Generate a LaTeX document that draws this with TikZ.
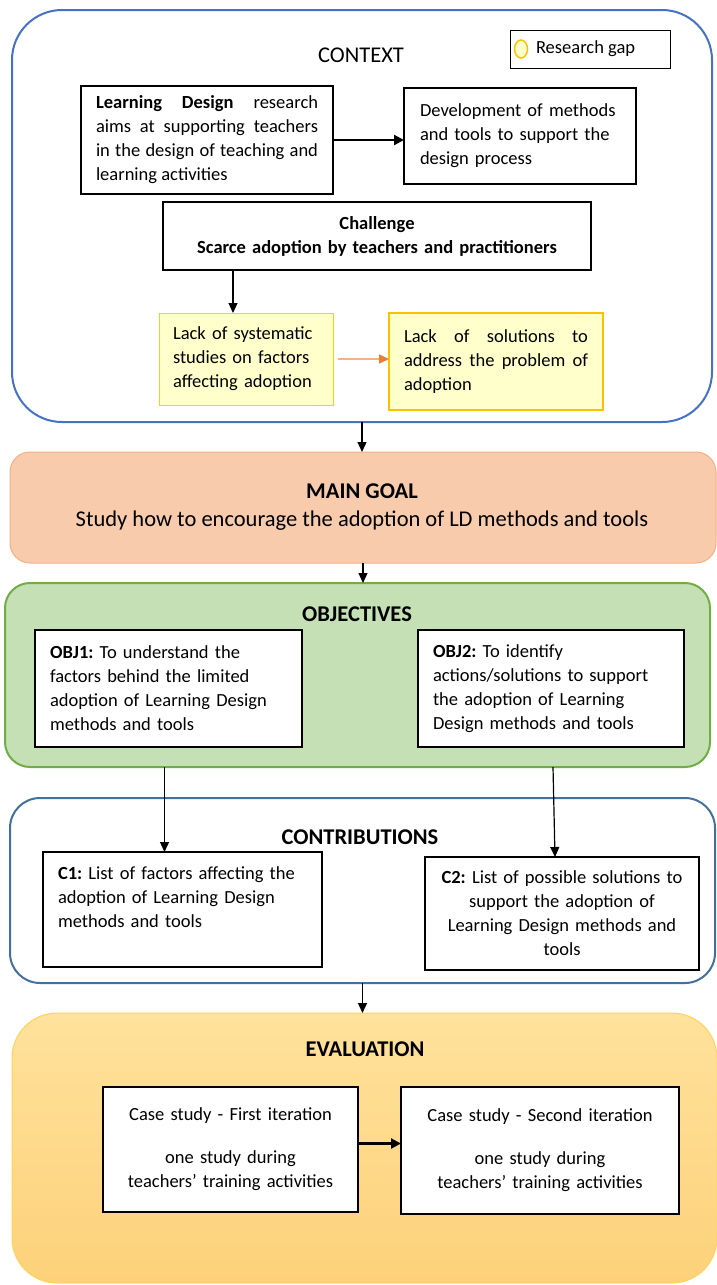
\documentclass[tikz,border=0pt]{standalone}
\usepackage{fontspec}
\setmainfont{Carlito}
\usetikzlibrary{arrows.meta,calc,shapes.geometric}

\definecolor{ctxblue}{HTML}{4472C4}
\definecolor{goalfill}{HTML}{F8CBAD}
\definecolor{goalline}{HTML}{F4B183}
\definecolor{objfill}{HTML}{C5E0B4}
\definecolor{objline}{HTML}{70AD47}
\definecolor{conline}{HTML}{41719C}
\definecolor{evtop}{HTML}{FFE29C}
\definecolor{evbot}{HTML}{FDD17A}
\definecolor{evline}{HTML}{FFD35A}
\definecolor{gapfill}{HTML}{FFFFCC}
\definecolor{gapline}{HTML}{FFC000}
\definecolor{orline}{HTML}{F4B183}
\definecolor{orhead}{HTML}{ED7D31}

\newcommand\bodysize{\fontsize{18.5}{24}\selectfont}
\newcommand\headsize{\fontsize{22.5}{27}\selectfont}
\frenchspacing

\begin{document}
\begin{tikzpicture}[x=1pt,y=-1pt,
  every node/.style={inner sep=0pt, outer sep=0pt},
  panel/.style={anchor=north west, rounded corners=#1},
  textbox/.style={draw=black, line width=1.1pt, fill=white, anchor=north west, font=\bodysize},
  heading/.style={font=\headsize\bfseries},
  arr/.style={-{Triangle[length=10pt,width=9pt]}, line width=1.2pt},
  thickarr/.style={-{Triangle[length=10pt,width=10pt]}, line width=2.2pt},
  orarr/.style={draw=orline, line width=1.5pt, -{Triangle[length=10pt,width=9pt,color=orhead]}}]

\useasboundingbox (0,0) rectangle (717,1285);

% section panels
\node[panel=50pt, draw=ctxblue, line width=2pt, minimum width=700, minimum height=412] (context) at (12,10) {};
\node[panel=20pt, draw=goalline, fill=goalfill, line width=1pt, minimum width=706, minimum height=111] (goal) at (10,452) {};
\node[panel=25pt, draw=objline, fill=objfill, line width=2pt, minimum width=705, minimum height=184] (objectives) at (5,583) {};
\node[panel=30pt, draw=conline, line width=2pt, minimum width=705, minimum height=185] (contrib) at (10,798) {};
\node[panel=45pt, draw=evline, line width=1pt, top color=evtop, bottom color=evbot, minimum width=705, minimum height=270] (evaluation) at (12,1013) {};

% titles
\node[font=\headsize] (ctxtitle) at (361,55) {CONTEXT};
\node[heading] (goaltitle) at (362,491) {MAIN GOAL};
\node[font=\headsize] (goaltext) at (362,521) {Study how to encourage the adoption of LD methods and tools};
\node[heading] (objtitle) at (357,614) {OBJECTIVES};
\node[heading] (contitle) at (360,837) {CONTRIBUTIONS};
\node[heading] (evtitle) at (365,1049) {EVALUATION};

% legend
\node[draw=black, line width=0.8pt, fill=white, anchor=north west, minimum width=160, minimum height=38] (legend) at (510,30) {};
\node[ellipse, draw=gapline, fill=gapfill, line width=1.5pt, minimum width=13, minimum height=18] (gapmark) at (521,49) {};
\node[font=\bodysize, anchor=west] (gaptext) at (536,49) {Research gap};

% context boxes
\node[textbox, minimum width=252, minimum height=108, text width=222, align=justify] (ld) at (81,86)
  {\textbf{Learning Design} research\linebreak aims at supporting teachers\linebreak in the design of teaching and\linebreak learning activities};
\node[textbox, minimum width=232, minimum height=96, text width=200, align=left] (dev) at (404,88)
  {Development of methods\\and tools to support the\\design process};
\node[textbox, minimum width=428, minimum height=68, text width=410, align=center, font=\bodysize\bfseries] (challenge) at (163,202)
  {Challenge\\Scarce adoption by teachers and practitioners};
\node[textbox, draw=gapline!85, fill=gapfill, line width=1pt, minimum width=174, minimum height=92, text width=146, align=left] (gap1) at (159,313)
  {Lack of systematic\\studies on factors\\affecting adoption};
\node[textbox, draw=gapline, fill=gapfill, line width=2.4pt, minimum width=214, minimum height=97, text width=184, align=justify] (gap2) at (389,313)
  {Lack of solutions to\linebreak address the problem of\linebreak adoption};

% objectives
\node[textbox, minimum width=267, minimum height=117, text width=237, align=left] (obj1) at (35,630)
  {\textbf{OBJ1:} To understand the\\factors behind the limited\\adoption of Learning Design\\methods and tools};
\node[textbox, minimum width=266, minimum height=117, text width=236, align=left] (obj2) at (418,630)
  {\textbf{OBJ2:} To identify\\actions/solutions to support\\the adoption of Learning\\Design methods and tools};

% contributions
\node[textbox, minimum width=279, minimum height=115, text width=249, align=left] (c1) at (43,852)
  {\textbf{C1:} List of factors affecting the\\adoption of Learning Design\\methods and tools\\\mbox{}};
\node[textbox, minimum width=274, minimum height=113, text width=260, align=center] (c2) at (425,857)
  {\textbf{C2:} List of possible solutions to\\support the adoption of\\Learning Design methods and\\tools};

% evaluation
\node[textbox, minimum width=255, minimum height=125, text width=245, align=center] (case1) at (103,1087)
  {Case study - First iteration\\[19pt]one study during\\teachers’ training activities};
\node[textbox, minimum width=278, minimum height=127, text width=268, align=center] (case2) at (401,1087)
  {Case study - Second iteration\\[19pt]one study during\\teachers’ training activities};

% connectors
\draw[thickarr] (ld.east) -- (ld.east -| dev.west);
\draw[arr] ([xshift=-13pt]gap1.north |- challenge.south) -- ([xshift=-13pt]gap1.north);
\draw[orarr] ([xshift=5pt]gap1.east) -- (gap1.east -| gap2.west);
\draw[arr] (context.south) -- (context.south |- goal.north);
\draw[arr] (goal.south) -- (goal.south |- objectives.north);
\draw[arr] ([xshift=-4pt]obj1.south |- objectives.south) -- ([xshift=-4pt]obj1.south |- c1.north);
\draw[arr] ([xshift=2pt]obj2.south |- objectives.south) -- ([xshift=4pt]obj2.south |- c2.north);
\draw[arr] (contrib.south) -- (contrib.south |- evaluation.north);
\draw[thickarr] ([yshift=6pt]case1.east) -- ([yshift=6pt]case1.east -| case2.west);
\end{tikzpicture}
\end{document}
